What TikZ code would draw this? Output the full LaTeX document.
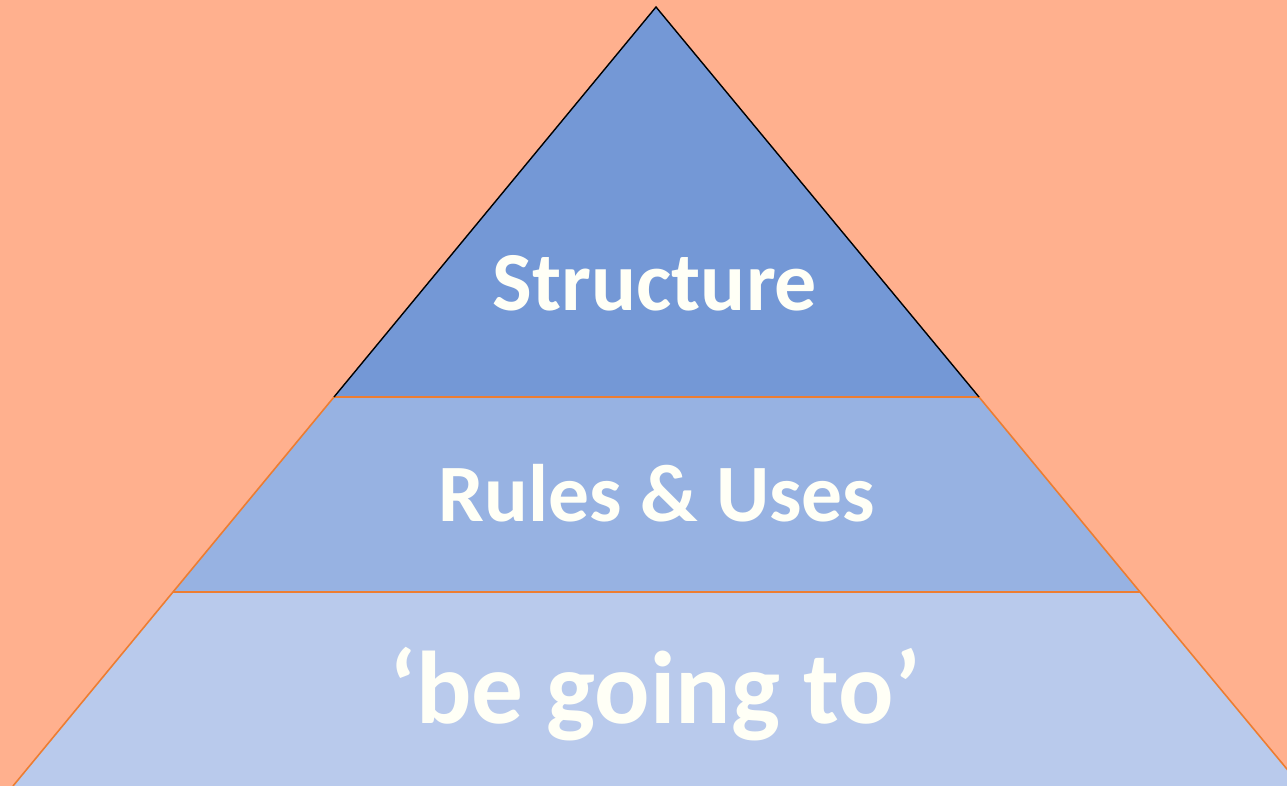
\documentclass[tikz,border=0pt]{standalone}
\usepackage{fontspec}
\setmainfont{Carlito}
\usetikzlibrary{positioning}
\definecolor{bgsalmon}{RGB}{255,176,142}
\definecolor{tiertop}{RGB}{116,152,214}
\definecolor{tiermid}{RGB}{151,178,226}
\definecolor{tierlow}{RGB}{185,202,236}
\definecolor{edgeorange}{RGB}{237,125,49}
\definecolor{textcream}{RGB}{255,255,246}

\begin{document}
\begin{tikzpicture}[x=0.02cm, y=-0.02cm,
    tiertext/.style={text=textcream, inner sep=0pt, anchor=base},
    tieredge/.style={edgeorange, line width=0.9pt}]
  % background, fixes the size
  \fill[bgsalmon] (0,0) rectangle (1287,786);
  \clip (0,0) rectangle (1287,786);
  % corners of the pyramid
  \coordinate (apex) at (656,7);
  \coordinate (topL) at (334,397);
  \coordinate (topR) at (979,397);
  \coordinate (midL) at (173,592);
  \coordinate (midR) at (1140,592);
  \coordinate (lowL) at (13,786);
  \coordinate (lowR) at (1301,786);
  % tiers
  \fill[tierlow] (midL) -- (midR) -- (lowR) -- (lowL) -- cycle;
  \fill[tiermid] (topL) -- (topR) -- (midR) -- (midL) -- cycle;
  \fill[tiertop] (apex) -- (topR) -- (topL) -- cycle;
  % outlines
  \draw[tieredge] (topL) -- (midL) -- (lowL);
  \draw[tieredge] (topR) -- (midR) -- (lowR);
  \draw[tieredge] (midL) -- (midR);
  \draw[tieredge] (topL) -- (topR);
  \draw[black, line width=0.8pt] (topL) -- (apex) -- (topR);
  % labels
  \node[tiertext, font=\bfseries\fontsize{47.8}{54}\selectfont] (structure) at (655,311)
    {Structure};
  \node[tiertext, font=\bfseries\fontsize{46.4}{52}\selectfont] (rules) at (657,521)
    {Rules \& Uses};
  \node[tiertext, font=\bfseries\fontsize{58.8}{66}\selectfont] (begoing) at (655,723)
    {‘be going to’};
\end{tikzpicture}
\end{document}
